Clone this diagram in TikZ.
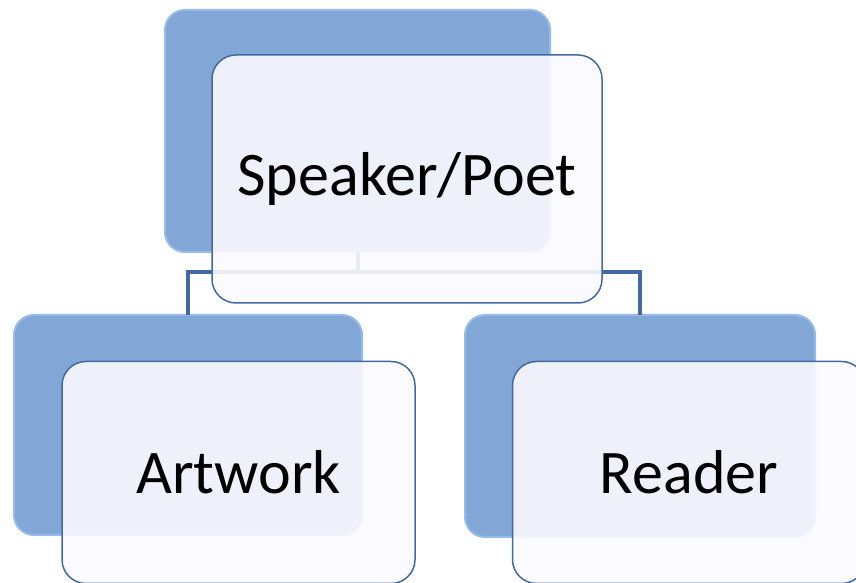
\documentclass[tikz,border=0pt]{standalone}
\usepackage{fontspec}
\setmainfont{Carlito}
\usetikzlibrary{positioning}
\definecolor{backblue}{RGB}{130,166,214}
\definecolor{backedge}{RGB}{150,186,234}
\definecolor{frontedge}{RGB}{66,106,160}
\definecolor{frontfill}{RGB}{251,250,254}
\tikzset{
	boxnode/.style = {rectangle, inner sep=0pt, outer sep=0pt, align=center,
		font=\fontsize{62}{66}\selectfont},
	org_b/.style = {boxnode, rounded corners=20pt, fill=backblue, draw=backedge,
		line width=2pt, minimum width=348pt, minimum height=220pt},% boite arriere, bleue
	org_f/.style = {boxnode, rounded corners=24pt, fill=frontfill, fill opacity=0.9,
		text opacity=1, draw=frontedge, line width=1.5pt,
		minimum width=353pt, minimum height=222pt},% boite avant, blanche
	org_l/.style = {draw=frontedge, line width=4pt}% trait de liaison
}
\begin{document}
\begin{tikzpicture}[x=1pt,y=1pt]
	\useasboundingbox (0,0) rectangle (856,583);
	\node [org_b, minimum width=385pt, minimum height=242pt] (poet_b) at (357.5,452) {};
	\node [org_b] (art_b) at (188,158) {};
	\node [org_b, minimum width=350pt, minimum height=222pt] (reader_b) at (640,157) {};
	\draw [org_l] (poet_b.south) -- ++(0,-20) coordinate (split)
		-| (art_b.north);
	\draw [org_l] (split) -| (reader_b.north);
	\node [org_f, minimum width=390pt, minimum height=248pt] (poet) at (407,404) {Speaker/Poet};
	\node [org_f] (art) at (238.5,110.5) {Artwork};
	\node [org_f] (reader) at (689,110.5) {Reader};
\end{tikzpicture}
\end{document}
